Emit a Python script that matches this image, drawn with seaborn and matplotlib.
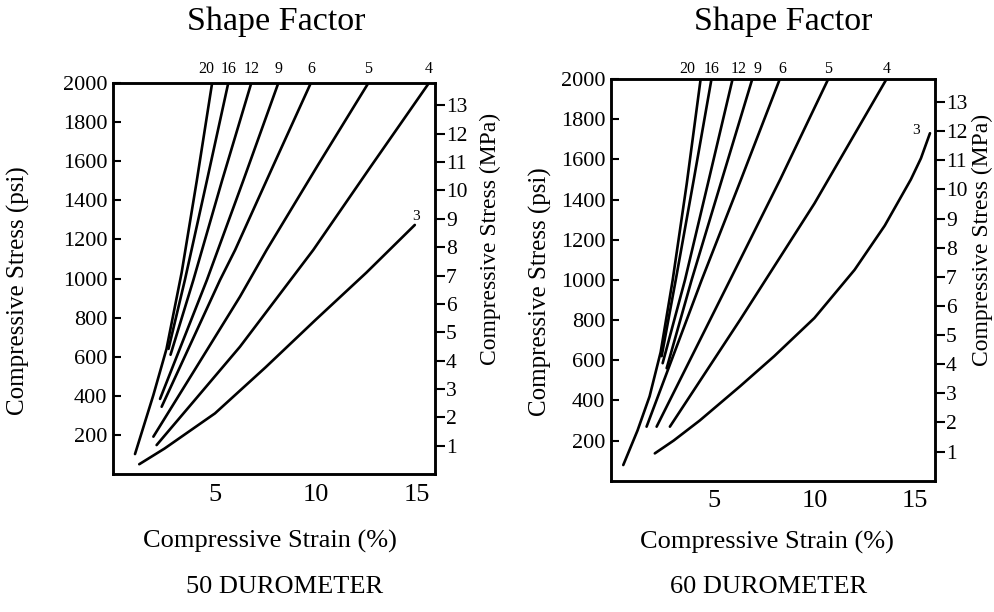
import matplotlib
matplotlib.use("Agg")
import matplotlib.pyplot as plt
import numpy as np
import pandas as pd
import seaborn as sns

# ---------------- data ----------------
shape_factors = ["20", "16", "12", "9", "6", "5", "4", "3"]

# 50 durometer: compressive strain (%) and stress (psi)
d50_sf20_x = [1.04, 1.95, 2.6, 3.35, 4.1, 4.86]
d50_sf20_y = [102, 404, 640, 1030, 1500, 2000]
d50_sf16_x = [2.7, 3.51, 4.6, 5.66]
d50_sf16_y = [640, 992, 1500, 2000]
d50_sf12_x = [2.8, 3.93, 5.35, 6.8]
d50_sf12_y = [610, 992, 1500, 2000]
d50_sf9_x = [2.28, 4.6, 6.4, 8.14]
d50_sf9_y = [384, 992, 1500, 2000]
d50_sf6_x = [2.36, 5.25, 6.0, 7.9, 9.75]
d50_sf6_y = [344, 992, 1146, 1580, 2000]
d50_sf5_x = [1.95, 4.0, 6.24, 7.56, 10.1, 12.6]
d50_sf5_y = [191, 533, 907, 1146, 1580, 2000]
d50_sf4_x = [2.11, 4.0, 6.24, 9.87, 12.7, 15.6]
d50_sf4_y = [148, 378, 651, 1146, 1570, 2000]
d50_sf3_x = [1.25, 2.5, 5.0, 7.5, 10.0, 12.5, 14.9]
d50_sf3_y = [50, 130, 310, 545, 790, 1030, 1274]

# 60 durometer
d60_sf20_x = [0.49, 1.2, 1.8, 2.35, 2.95, 3.65, 4.34]
d60_sf20_y = [78, 250, 420, 640, 1000, 1480, 2000]
d60_sf16_x = [2.4, 3.1, 4.0, 4.88]
d60_sf16_y = [620, 999, 1500, 2000]
d60_sf12_x = [2.45, 3.56, 4.75, 5.93]
d60_sf12_y = [585, 999, 1500, 2000]
d60_sf9_x = [2.65, 3.89, 5.4, 6.91]
d60_sf9_y = [560, 999, 1500, 2000]
d60_sf6_x = [1.65, 4.39, 6.35, 8.28]
d60_sf6_y = [269, 999, 1500, 2000]
d60_sf5_x = [2.15, 5.8, 8.3, 10.69]
d60_sf5_y = [269, 999, 1500, 2000]
d60_sf4_x = [2.81, 6.29, 10.0, 13.59]
d60_sf4_y = [269, 799, 1380, 2000]
d60_sf3_x = [2.06, 3.0, 4.3, 6.3, 8.0, 10.0, 12.0, 13.5, 14.8, 15.3, 15.75]
d60_sf3_y = [136, 200, 300, 470, 620, 810, 1050, 1270, 1500, 1605, 1730]

psi_ticks = [200, 400, 600, 800, 1000, 1200, 1400, 1600, 1800, 2000]
mpa_ticks = [1, 2, 3, 4, 5, 6, 7, 8, 9, 10, 11, 12, 13]
strain_ticks = [5, 10, 15]
PSI_PER_MPA = 145.038

curves50 = {
    "20": (d50_sf20_x, d50_sf20_y), "16": (d50_sf16_x, d50_sf16_y),
    "12": (d50_sf12_x, d50_sf12_y), "9": (d50_sf9_x, d50_sf9_y),
    "6": (d50_sf6_x, d50_sf6_y), "5": (d50_sf5_x, d50_sf5_y),
    "4": (d50_sf4_x, d50_sf4_y), "3": (d50_sf3_x, d50_sf3_y),
}
curves60 = {
    "20": (d60_sf20_x, d60_sf20_y), "16": (d60_sf16_x, d60_sf16_y),
    "12": (d60_sf12_x, d60_sf12_y), "9": (d60_sf9_x, d60_sf9_y),
    "6": (d60_sf6_x, d60_sf6_y), "5": (d60_sf5_x, d60_sf5_y),
    "4": (d60_sf4_x, d60_sf4_y), "3": (d60_sf3_x, d60_sf3_y),
}


def to_frame(curves):
    rows = []
    for sf in shape_factors:
        xs, ys = curves[sf]
        for i, (x, y) in enumerate(zip(xs, ys)):
            rows.append({"sf": sf, "order": i, "strain": x, "psi": y})
    return pd.DataFrame(rows)


df50 = to_frame(curves50)
df60 = to_frame(curves60)

# ---------------- style ----------------
sns.set_style("white")
plt.rcParams["font.family"] = ["Liberation Serif", "DejaVu Serif"]
for key in ("text.color", "axes.labelcolor", "xtick.color", "ytick.color",
            "axes.edgecolor"):
    plt.rcParams[key] = "black"

W, H = 994, 612
fig = plt.figure(figsize=(W / 100, H / 100), dpi=100)

panels = [
    dict(df=df50, curves=curves50, box=(113, 83, 435, 474), xlim=(-0.05, 15.9),
         title=(0.506, 1.156), duro="50 DUROMETER", duro_xy=(0.534, -0.29),
         nudges={"20": -4}, top_off=10, three_off=(1, 6),
         ylab_x=-0.295, mpa_x=1.171, xlab=(0.488, -0.172)),
    dict(df=df60, curves=curves60, box=(611, 79, 935, 480.7), xlim=(-0.12, 16.0),
         title=(0.531, 1.143), duro="60 DUROMETER", duro_xy=(0.485, -0.265),
         nudges={"20": -10, "12": 4, "9": 4, "6": 2}, top_off=7.5, three_off=(-10, 2),
         ylab_x=-0.219, mpa_x=1.145, xlab=(0.48, -0.153)),
]

for p in panels:
    l, t, r, b = p["box"]
    ax = fig.add_axes([l / W, 1 - b / H, (r - l) / W, (b - t) / H])
    sns.lineplot(data=p["df"], x="strain", y="psi", units="sf", estimator=None,
                 sort=False, color="black", lw=1.9, legend=False, ax=ax)
    ax.set_xlim(*p["xlim"])
    ax.set_ylim(0, 2000)
    ax.set_xticks(strain_ticks)
    ax.set_yticks(psi_ticks)
    ax.tick_params(axis="both", direction="in", length=6, width=1.5, colors="black")
    ax.tick_params(axis="x", labelsize=19, pad=7)
    ax.tick_params(axis="y", labelsize=16, pad=4)
    for s in ax.spines.values():
        s.set_linewidth(1.8)
        s.set_color("black")

    ax.set_xlabel("Compressive Strain (%)", fontsize=19, va="center")
    ax.xaxis.set_label_coords(*p["xlab"])
    ax.set_ylabel("Compressive Stress (psi)", fontsize=18, va="center", ha="center")
    ax.yaxis.set_label_coords(p["ylab_x"], 0.47)

    ax2 = ax.twinx()
    ax2.set_ylim(0, 2000 / PSI_PER_MPA)
    ax2.set_yticks(mpa_ticks)
    ax2.tick_params(axis="y", direction="out", length=7, width=1.5, labelsize=15.5,
                    pad=1, colors="black")
    for s in ax2.spines.values():
        s.set_linewidth(1.8)
        s.set_color("black")
    ax2.set_ylabel("Compressive Stress (MPa)", fontsize=17, va="center", ha="center",
                   rotation=90)
    ax2.yaxis.set_label_coords(p["mpa_x"], 0.60)

    # shape-factor labels at the top end of each curve
    for sf in shape_factors[:-1]:
        xs, ys = p["curves"][sf]
        ax.annotate(sf, xy=(xs[-1], ys[-1]),
                    xytext=(p["nudges"].get(sf, 0), p["top_off"]),
                    textcoords="offset points", ha="center", va="center",
                    fontsize=11.5, annotation_clip=False)
    xs, ys = p["curves"]["3"]
    ax.annotate("3", xy=(xs[-1], ys[-1]), xytext=p["three_off"],
                textcoords="offset points", ha="center", va="center",
                fontsize=11, annotation_clip=False)

    ax.text(*p["title"], "Shape Factor", transform=ax.transAxes, ha="center",
            va="center", fontsize=24.5)
    ax.text(*p["duro_xy"], p["duro"], transform=ax.transAxes, ha="center",
            va="center", fontsize=19)

fig.savefig("out.png", dpi=100)
